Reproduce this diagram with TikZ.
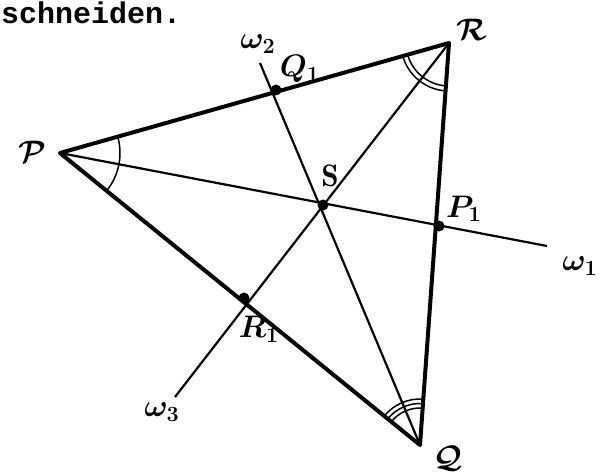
\documentclass[tikz,border=0pt]{standalone}
\usepackage{amsmath,bm,graphicx}
\usepackage{fontspec}
\setmonofont{Liberation Mono}
\usepackage{tikz}
\usetikzlibrary{angles}

\newcommand{\lbl}[1]{\scalebox{1.8}{$#1$}}

\begin{document}
\begin{tikzpicture}[x=1pt, y=1pt, every node/.style={font=\LARGE},
    side/.style={line width=4pt, line join=round},
    bisec/.style={line width=2.2pt},
    anglemark/.style={draw, line width=1.5pt}]
    \useasboundingbox (0,0) rectangle (608,474);
    \coordinate (P) at (60,321);
    \coordinate (R) at (449,431);
    \coordinate (Q) at (420,29);
    \coordinate (S) at (323,269);
    \coordinate (Q1) at (276,384);
    \coordinate (P1) at (439,248);
    \coordinate (R1) at (244,176);
    \coordinate (w1end) at (547,228);
    \coordinate (w2end) at (260,411);
    \coordinate (w3end) at (175,77);

    \node[anchor=base west, inner sep=0pt, font=\ttfamily\bfseries\fontsize{30}{32}\selectfont] (txt) at (1,450) {schneiden.};

    \draw[bisec] (P) -- (w1end);
    \draw[bisec] (Q) -- (w2end);
    \draw[bisec] (R) -- (w3end);
    \draw[side] (P) -- (R) -- (Q) -- cycle;

    \pic[anglemark, angle radius=60pt] {angle = Q--P--R};
    \pic[anglemark, angle radius=43pt] {angle = P--R--Q};
    \pic[anglemark, angle radius=48pt] {angle = P--R--Q};
    \pic[anglemark, angle radius=37pt] {angle = R--Q--P};
    \pic[anglemark, angle radius=41.5pt] {angle = R--Q--P};
    \pic[anglemark, angle radius=46pt] {angle = R--Q--P};

    \foreach \pt in {S, Q1, P1, R1}
        \fill (\pt) circle (5.5pt);

    \node (lP) at (32,322) {\lbl{\bm{\mathcal{P}}}};
    \node (lR) at (472,444) {\lbl{\bm{\mathcal{R}}}};
    \node (lQ) at (448,16) {\lbl{\bm{\mathcal{Q}}}};
    \node (lS) at (330,298) {\lbl{\mathbf{S}}};
    \node (lQ1) at (300,405) {\lbl{\bm{Q_1}}};
    \node (lP1) at (464,265) {\lbl{\bm{P_1}}};
    \node (lR1) at (259,145) {\lbl{\bm{R_1}}};
    \node (lw1) at (580,208) {\lbl{\bm{\omega_1}}};
    \node (lw2) at (258,430) {\lbl{\bm{\omega_2}}};
    \node (lw3) at (162,62) {\lbl{\bm{\omega_3}}};
\end{tikzpicture}
\end{document}
